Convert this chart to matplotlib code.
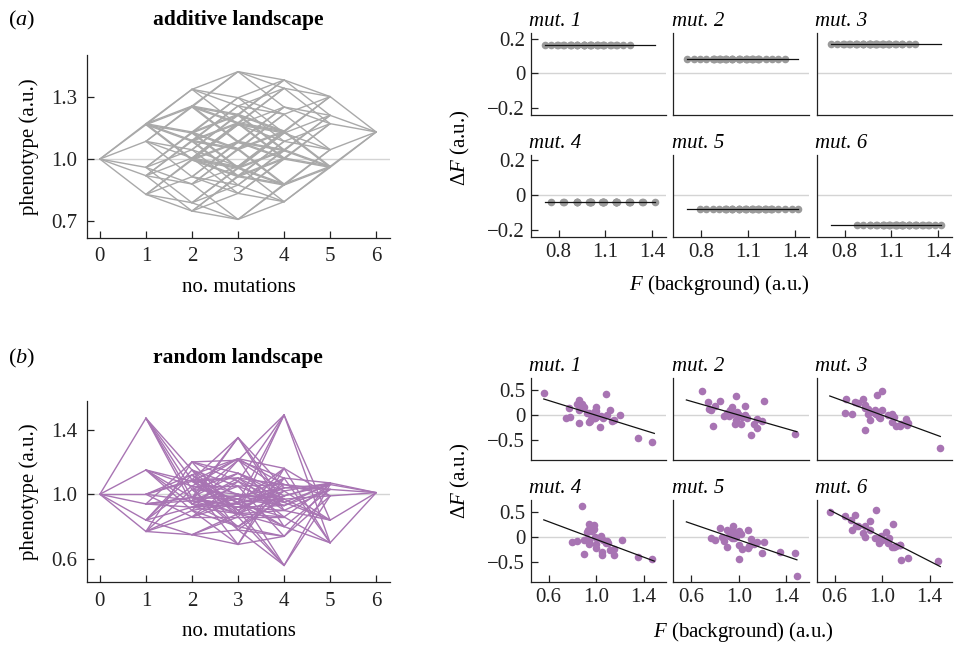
"""Additive vs random fitness landscape (6 mutations) and Delta F vs background F."""
from itertools import combinations
import numpy as np
import matplotlib
matplotlib.use("Agg")
import matplotlib.pyplot as plt

FS = 15
plt.rcParams.update({
    "font.family": "serif",
    "font.serif": ["Liberation Serif", "DejaVu Serif"],
    "mathtext.fontset": "custom",
    "mathtext.rm": "Liberation Serif",
    "mathtext.it": "Liberation Serif:italic",
    "mathtext.bf": "Liberation Serif:bold",
    "font.size": FS,
    "axes.linewidth": 0.9,
    "axes.edgecolor": "#222222",
    "xtick.color": "#222222",
    "ytick.color": "#222222",
})

W, H = 962, 645
C_ADD = "#a9a9a9"
C_ADD_PT = "#9a9a9a"
C_RAND = "#a874b3"
C_REF = "#d4d4d4"

N_MUT = 6
MUT_LABELS = ["mut. 1", "mut. 2", "mut. 3", "mut. 4", "mut. 5", "mut. 6"]

# additive landscape: single-mutation effects on phenotype (baseline 1.0)
ADD_BASE = 1.0
ADD_EFFECT = [0.165, 0.085, 0.17, -0.04, -0.08, -0.17]

# random landscape: phenotype per genotype, listed per number of mutations
# in itertools.combinations order of mutations 1..6
RAND_L0 = [1.00]
RAND_L1 = [1.15, 1.00, 1.47, 0.77, 0.84, 0.94]
RAND_L2 = [1.08, 0.94, 0.90, 1.05, 0.98, 1.09, 0.86, 1.12, 0.96, 1.03,
           1.15, 0.98, 0.75, 1.20, 0.92]
RAND_L3 = [1.10, 0.95, 1.22, 0.88, 0.80, 1.05, 0.92, 0.69, 1.21, 0.97,
           1.00, 0.90, 1.35, 0.86, 1.08, 0.94, 0.78, 1.13, 0.99, 0.88]
RAND_L4 = [0.97, 1.06, 0.90, 1.16, 1.49, 0.80, 0.74, 1.02, 0.93, 1.10,
           0.56, 0.95, 1.04, 0.86, 0.99]
RAND_L5 = [0.99, 0.84, 1.03, 0.70, 1.07, 1.06]
RAND_L6 = [1.01]


def px_axes(fig, x0, y0, w, h):
    return fig.add_axes([x0 / W, 1 - (y0 + h) / H, w / W, h / H])


def additive_landscape():
    land = {}
    for k in range(N_MUT + 1):
        for g in combinations(range(N_MUT), k):
            land[frozenset(g)] = ADD_BASE + sum(ADD_EFFECT[i] for i in g)
    return land


def random_landscape():
    levels = [RAND_L0, RAND_L1, RAND_L2, RAND_L3, RAND_L4, RAND_L5, RAND_L6]
    land = {}
    for k, vals in enumerate(levels):
        for g, v in zip(combinations(range(N_MUT), k), vals):
            land[frozenset(g)] = v
    return land


def draw_landscape(ax, land, color, yticks, ylim):
    ax.axhline(1.0, color=C_REF, lw=1.0, zorder=0)
    for g, f in land.items():
        for i in range(N_MUT):
            if i in g:
                continue
            g2 = g | {i}
            ax.plot([len(g), len(g2)], [f, land[g2]], color=color, lw=1.0,
                    zorder=2, solid_capstyle="round")
    ax.set_xlim(-0.28, 6.3)
    ax.set_ylim(*ylim)
    ax.set_xticks(range(7))
    ax.set_yticks(yticks)
    ax.set_xlabel("no. mutations", labelpad=8)
    ax.set_ylabel("phenotype (a.u.)", labelpad=9)
    ax.tick_params(direction="in", length=5, width=0.9, labelsize=FS, pad=7)
    for sp in ("top", "right"):
        ax.spines[sp].set_visible(False)


def draw_effects(fig, land, color, line_top, yticks, ytl, ylim, xticks, xlim):
    xs0 = [530.7, 673.3, 816.7]
    fmin = min(land.values())
    fmax = max(land.values())
    for i in range(N_MUT):
        r, c = divmod(i, 3)
        ax = px_axes(fig, xs0[c], line_top[r], 135.5, 82)
        bg = [g for g in land if i not in g]
        F = np.array([land[g] for g in bg])
        dF = np.array([land[g | {i}] - land[g] for g in bg])
        ax.axhline(0, color=C_REF, lw=1.0, zorder=0)
        ax.scatter(F, dF, s=30, color=color, lw=0, zorder=2)
        a, b = np.polyfit(F, dF, 1)
        xx = np.array([fmin, fmax])
        ax.plot(xx, a * xx + b, color="#111111", lw=0.9, zorder=3)
        ax.set_xlim(*xlim)
        ax.set_ylim(*ylim)
        ax.set_title(MUT_LABELS[i], fontstyle="italic", loc="left",
                     fontsize=FS, pad=5, x=-0.01)
        if c == 0:
            ax.set_yticks(yticks)
            ax.set_yticklabels(ytl)
        else:
            ax.set_yticks([])
        if r == 1:
            ax.set_xticks(xticks)
        else:
            ax.set_xticks([])
        ax.tick_params(direction="in", length=5, width=0.9, labelsize=FS,
                       pad=4)
        for sp in ("top", "right"):
            ax.spines[sp].set_visible(False)


def main():
    fig = plt.figure(figsize=(W / 100, H / 100), dpi=100)

    # (a) additive
    ax_a = px_axes(fig, 87, 55, 303, 182.7)
    draw_landscape(ax_a, additive_landscape(), C_ADD, [0.7, 1.0, 1.3],
                   (0.622, 1.5))
    fig.text(238 / W, 1 - 20 / H, "additive landscape", ha="center",
             va="center", fontweight="bold", fontsize=FS + 0.5)
    fig.text(8 / W, 1 - 20 / H, r"($\mathit{a}$)", ha="left", va="center",
             fontsize=16)
    draw_effects(fig, additive_landscape(), C_ADD_PT, [33.3, 155],
                 [0.2, 0, -0.2], ["0.2", "0", "\u22120.2"], (-0.24, 0.23),
                 [0.8, 1.1, 1.4], (0.62, 1.49))
    fig.text(460 / W, 1 - 148 / H, r"$\Delta F$ (a.u.)", rotation=90,
             ha="center", va="center", fontsize=FS)
    fig.text(719 / W, 1 - 285 / H, r"$F$ (background) (a.u.)", ha="center",
             va="center", fontsize=FS)

    # (b) random
    ax_b = px_axes(fig, 87, 400.7, 303, 181.6)
    draw_landscape(ax_b, random_landscape(), C_RAND, [0.6, 1.0, 1.4],
                   (0.456, 1.578))
    fig.text(238 / W, 1 - 358 / H, "random landscape", ha="center",
             va="center", fontweight="bold", fontsize=FS + 0.5)
    fig.text(8 / W, 1 - 358 / H, r"($\mathit{b}$)", ha="left", va="center",
             fontsize=16)
    draw_effects(fig, random_landscape(), C_RAND, [378.3, 500],
                 [0.5, 0, -0.5], ["0.5", "0", "\u22120.5"], (-0.9, 0.73),
                 [0.6, 1.0, 1.4], (0.45, 1.59))
    fig.text(460 / W, 1 - 481 / H, r"$\Delta F$ (a.u.)", rotation=90,
             ha="center", va="center", fontsize=FS)
    fig.text(743 / W, 1 - 632 / H, r"$F$ (background) (a.u.)", ha="center",
             va="center", fontsize=FS)

    fig.savefig("out.png", dpi=100)
    plt.close(fig)


if __name__ == "__main__":
    main()
